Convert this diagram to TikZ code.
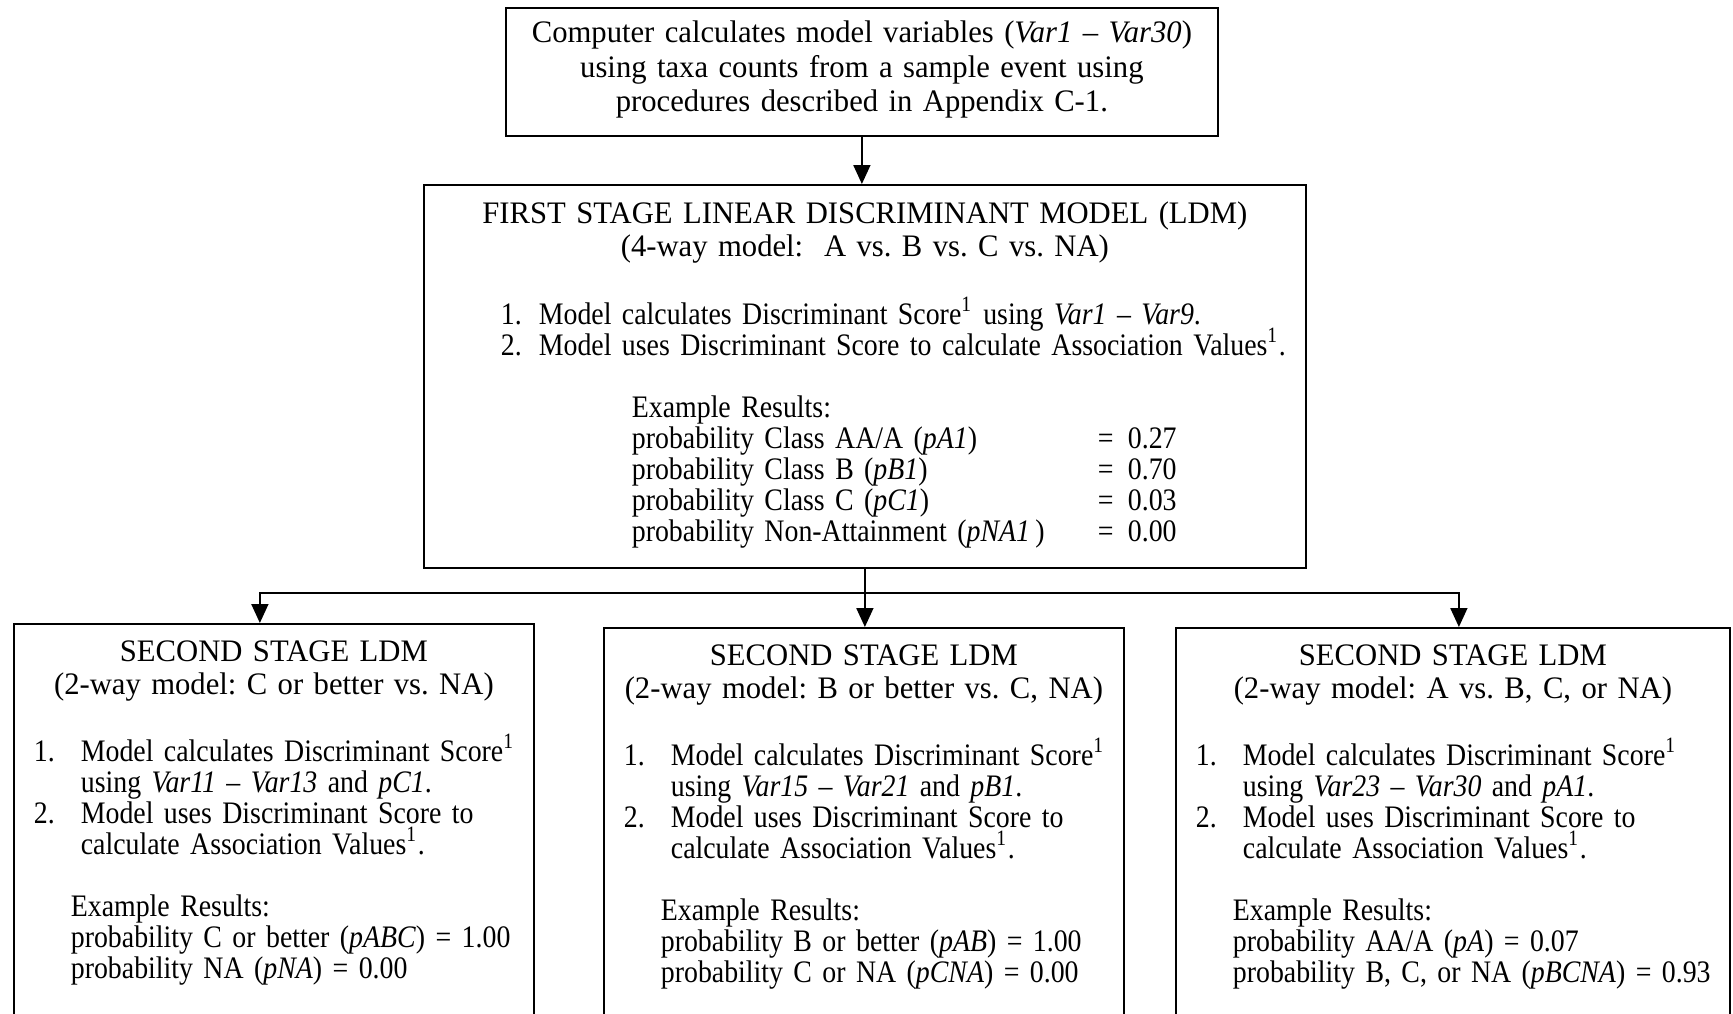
\documentclass[tikz,border=0pt]{standalone}
\usepackage{fontspec}
\setmainfont{Liberation Serif}[FakeStretch=0.98]
\newfontfamily\bodyfont{Liberation Serif}[FakeStretch=0.89, Ligatures=TeX]
\usetikzlibrary{arrows.meta}
\frenchspacing
\tikzstyle{box} = [rectangle, draw=black, line width=0.5pt, inner sep=0pt, anchor=north west, align=left, font=\fontsize{8.9pt}{3.1mm}\selectfont, execute at begin node={\lineskiplimit=-10pt}]
\tikzstyle{arrow} = [line width=0.5pt, -{Triangle[length=1.9mm, width=1.7mm]}]

\begin{document}
\begin{tikzpicture}
\useasboundingbox (0,0) rectangle (173.3mm,-101.3mm);
\clip (0,0) rectangle (173.3mm,-101.3mm);

\node (comp) [box, align=center, text width=71.2mm, text height=3.5mm, text depth=9.3mm, font=\fontsize{8.9pt}{3.45mm}\selectfont] at (50.5mm,-0.7mm) {Computer calculates model variables (\textit{Var1 -- Var30})\\ using taxa counts from a sample event using\\ procedures described in Appendix C-1.};

\node (first) [box, text width=88.2mm, text height=3.9mm, text depth=34.4mm] at (42.3mm,-18.4mm) {\makebox[\hsize]{FIRST STAGE LINEAR DISCRIMINANT MODEL (LDM)}\\[0.2mm]
\makebox[\hsize]{(4-way model:\ \ A vs. B vs. C vs. NA)}\\[3.7mm]
\bodyfont
\hspace*{7.7mm}\makebox[3.8mm][l]{1.}Model calculates Discriminant Score\textsuperscript{1} using \textit{Var1 -- Var9}.\\
\hspace*{7.7mm}\makebox[3.8mm][l]{2.}Model uses Discriminant Score to calculate Association Values\textsuperscript{1}.\\[3.1mm]
\hspace*{20.8mm}Example Results:\\
\hspace*{20.8mm}\makebox[46.6mm][l]{probability Class AA/A (\textit{pA1})}\makebox[3mm][l]{=}0.27\\
\hspace*{20.8mm}\makebox[46.6mm][l]{probability Class B (\textit{pB1})}\makebox[3mm][l]{=}0.70\\
\hspace*{20.8mm}\makebox[46.6mm][l]{probability Class C (\textit{pC1})}\makebox[3mm][l]{=}0.03\\
\hspace*{20.8mm}\makebox[46.6mm][l]{probability Non-Attainment (\textit{pNA1}\,)}\makebox[3mm][l]{=}0.00};

\node (second1) [box, text width=52mm, text height=3.8mm, text depth=40mm] at (1.3mm,-62.3mm) {\makebox[\hsize]{SECOND STAGE LDM}\\[0.2mm]
\makebox[\hsize]{(2-way model: C or better vs. NA)}\\[3.6mm]
\bodyfont
\hspace*{2mm}\makebox[4.7mm][l]{1.}Model calculates Discriminant Score\textsuperscript{1}\\
\hspace*{6.7mm}using \textit{Var11 -- Var13} and \textit{pC1}.\\
\hspace*{2mm}\makebox[4.7mm][l]{2.}Model uses Discriminant Score to\\
\hspace*{6.7mm}calculate Association Values\textsuperscript{1}.\\[3.1mm]
\hspace*{5.7mm}Example Results:\\
\hspace*{5.7mm}probability C or better (\textit{pABC}) = 1.00\\
\hspace*{5.7mm}probability NA (\textit{pNA}) = 0.00};

\node (second2) [box, text width=52mm, text height=3.8mm, text depth=40mm] at (60.3mm,-62.7mm) {\makebox[\hsize]{SECOND STAGE LDM}\\[0.2mm]
\makebox[\hsize]{(2-way model: B or better vs. C, NA)}\\[3.6mm]
\bodyfont
\hspace*{2mm}\makebox[4.7mm][l]{1.}Model calculates Discriminant Score\textsuperscript{1}\\
\hspace*{6.7mm}using \textit{Var15 -- Var21} and \textit{pB1}.\\
\hspace*{2mm}\makebox[4.7mm][l]{2.}Model uses Discriminant Score to\\
\hspace*{6.7mm}calculate Association Values\textsuperscript{1}.\\[3.1mm]
\hspace*{5.7mm}Example Results:\\
\hspace*{5.7mm}probability B or better (\textit{pAB}) = 1.00\\
\hspace*{5.7mm}probability C or NA (\textit{pCNA}) = 0.00};

\node (second3) [box, text width=55.4mm, text height=3.8mm, text depth=40mm] at (117.5mm,-62.7mm) {\makebox[\hsize]{SECOND STAGE LDM}\\[0.2mm]
\makebox[\hsize]{(2-way model: A vs. B, C, or NA)}\\[3.6mm]
\bodyfont
\hspace*{2mm}\makebox[4.7mm][l]{1.}Model calculates Discriminant Score\textsuperscript{1}\\
\hspace*{6.7mm}using \textit{Var23 -- Var30} and \textit{pA1}.\\
\hspace*{2mm}\makebox[4.7mm][l]{2.}Model uses Discriminant Score to\\
\hspace*{6.7mm}calculate Association Values\textsuperscript{1}.\\[3.1mm]
\hspace*{5.7mm}Example Results:\\
\hspace*{5.7mm}probability AA/A (\textit{pA}) = 0.07\\
\hspace*{5.7mm}probability B, C, or NA (\textit{pBCNA}) = 0.93};

\draw[arrow] (comp.south) -- (comp.south |- first.north);
\draw[line width=0.5pt] (first.south) -- ++(0,-2.4mm) coordinate (split);
\draw[arrow] (split) -| ([xshift=-1.4mm]second1.north);
\draw[arrow] (split) -| ([xshift=0.6mm]second3.north);
\draw[arrow] (split) -- (split |- second2.north);
\end{tikzpicture}
\end{document}
